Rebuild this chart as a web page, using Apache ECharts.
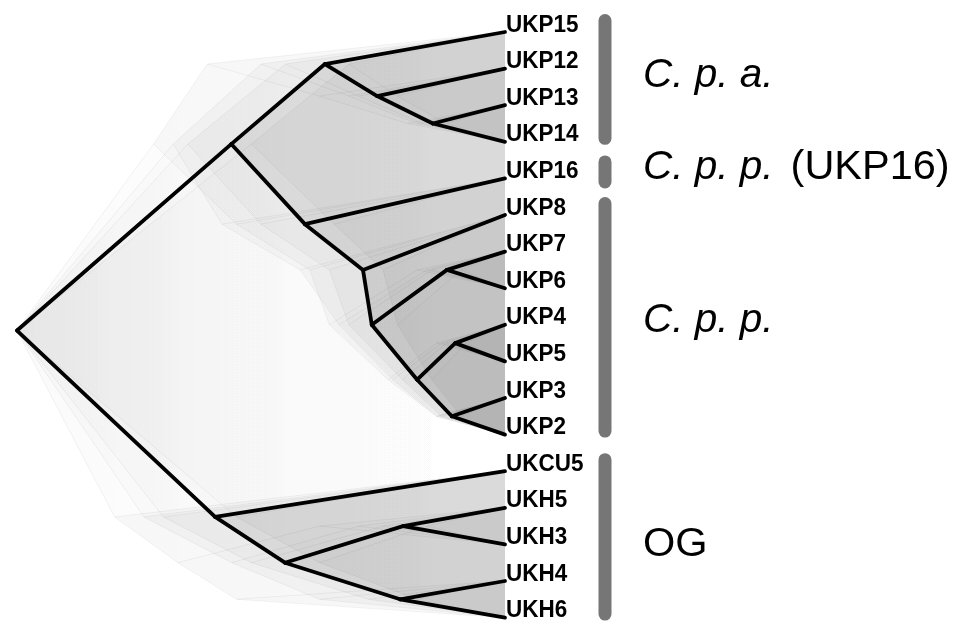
<!DOCTYPE html>
<html><head><meta charset="utf-8">
<script src="https://cdn.jsdelivr.net/npm/echarts@6/dist/echarts.min.js"></script>
<style>html,body{margin:0;padding:0;background:#fff}#c{width:958px;height:623px}</style>
</head><body><div id="c"></div>
<script>
// ---------------- DATA ----------------
const tipNames = ['UKP15','UKP12','UKP13','UKP14','UKP16','UKP8','UKP7','UKP6','UKP4','UKP5','UKP3','UKP2','UKCU5','UKH5','UKH3','UKH4','UKH6'];
const tipDepth = 100;
const nodeNames = ['root','A','B','C','D','E','F','G','H','I','J','K','L','M','N','O'];
const nodeChildren = [
  ['A','L'], ['B','E'], ['UKP15','C'], ['UKP12','D'], ['UKP13','UKP14'],
  ['UKP16','F'], ['UKP8','G'], ['H','I'], ['UKP7','UKP6'], ['J','K'],
  ['UKP4','UKP5'], ['UKP3','UKP2'], ['UKCU5','M'], ['N','O'], ['UKH5','UKH3'], ['UKH4','UKH6']
];
// consensus tree node depths (root = 0, tips = 100)
const consensusDepth = [0, 43.9, 63.1, 73.8, 85.2, 59.0, 70.9, 72.7, 88.1, 82.0, 89.8, 89.1, 40.6, 54.9, 79.1, 78.5];
// a few posterior trees visible in the grey cloud behind the consensus
const cloudTree1 = [0, 28, 39, 62, 80, 45, 60, 64, 82, 76, 86, 86, 30, 48, 75, 72];
const cloudTree2 = [0, 35, 55, 70, 83, 50, 64, 68, 85, 79, 88, 87, 20, 33, 62, 45];
const cloudTree3 = [0, 32, 50, 68, 82, 42, 58, 66, 84, 77, 87, 86, 26, 44, 70, 62];
const cloudTree4 = [0, 48, 68, 78, 88, 65, 75, 78, 91, 85, 92, 91, 45, 62, 84, 82];
const groupNames = ['C. p. a.', 'C. p. p. (UKP16)', 'C. p. p.', 'OG'];
const groupFirst = ['UKP15','UKP16','UKP8','UKCU5'];
const groupLast  = ['UKP14','UKP16','UKP2','UKH6'];

// ---------------- LAYOUT HELPERS ----------------
const idxTip = {}; tipNames.forEach((n,i)=>idxTip[n]=i);
const idxNode = {}; nodeNames.forEach((n,i)=>idxNode[n]=i);
function isTip(n){ return Object.prototype.hasOwnProperty.call(idxTip,n); }
function rowOf(n){ if(isTip(n)) return idxTip[n]; const ch=nodeChildren[idxNode[n]]; return ch.reduce((s,c)=>s+rowOf(c),0)/ch.length; }
function depthOf(n,d){ return isTip(n) ? tipDepth : d[idxNode[n]]; }
function pt(n,d){ return [depthOf(n,d), rowOf(n)]; }
function chain(n,d,first){ const out=[pt(n,d)]; let cur=n; while(!isTip(cur)){ const ch=nodeChildren[idxNode[cur]]; cur = first?ch[0]:ch[ch.length-1]; out.push(pt(cur,d)); } return out; }
const level = {root:0};
(function walk(n){ if(isTip(n)) return; nodeChildren[idxNode[n]].forEach(c=>{ level[c]=level[n]+1; walk(c); }); })('root');

const trees = [
  {d: consensusDepth, a0: 0.03, a1: 0.065, a2: 0.016, line: null},
  {d: cloudTree1, a0: 0.02, a1: 0.02, a2: 0.002, line: 'rgba(0,0,0,0.05)'},
  {d: cloudTree2, a0: 0.02, a1: 0.02, a2: 0.002, line: 'rgba(0,0,0,0.05)'},
  {d: cloudTree3, a0: 0.02, a1: 0.02, a2: 0.002, line: 'rgba(0,0,0,0.05)'},
  {d: cloudTree4, a0: 0.02, a1: 0.02, a2: 0.002, line: 'rgba(0,0,0,0.05)'}
];
const polys = [];
const faintSegs = [];
const mainSegs = [];
trees.forEach((t,ti)=>{
  nodeNames.forEach(n=>{
    const up = chain(n,t.d,true), lo = chain(n,t.d,false);
    const lv = level[n];
    polys.push({pts: up.concat(lo.slice(1).reverse()), lv, alpha: lv===0 ? t.a0 : (lv===1 ? t.a1 : t.a2)});
    nodeChildren[idxNode[n]].forEach(c=>{
      const seg = [pt(n,t.d), pt(c,t.d)];
      if (ti===0) mainSegs.push(seg); else faintSegs.push({seg, color: t.line});
    });
  });
});

const chart = echarts.init(document.getElementById('c'), null, {renderer:'canvas'});
const FONT = '"Liberation Sans", Arial, Helvetica, sans-serif';

chart.setOption({
  animation: false,
  backgroundColor: '#ffffff',
  grid: {left: 17, top: 32, width: 488, height: 585.6, containLabel: false},
  xAxis: {type:'value', min:0, max:100, show:false},
  yAxis: {type:'value', min:0, max:16, inverse:true, show:false},
  series: [
    { type:'custom', clip:false, silent:true, data: polys.map((p,i)=>[i]),
      renderItem: (params, api) => {
        const p = polys[params.dataIndex];
        let fill = 'rgba(0,0,0,'+p.alpha+')';
        if (p.lv===0) fill = new echarts.graphic.LinearGradient(0,0,1,0,[
          {offset:0, color:'rgba(0,0,0,'+p.alpha+')'},
          {offset:0.4, color:'rgba(0,0,0,'+(p.alpha*0.3)+')'},
          {offset:1, color:'rgba(0,0,0,0)'}]);
        return {type:'polygon', shape:{points: p.pts.map(q=>api.coord(q))}, style:{fill}};
      }},
    { type:'custom', clip:false, silent:true, data: faintSegs.map((s,i)=>[i]),
      renderItem: (params, api) => {
        const s = faintSegs[params.dataIndex];
        const a = api.coord(s.seg[0]), b = api.coord(s.seg[1]);
        return {type:'line', shape:{x1:a[0],y1:a[1],x2:b[0],y2:b[1]}, style:{stroke:s.color, lineWidth:1}};
      }},
    { type:'custom', clip:false, silent:true, data: mainSegs.map((s,i)=>[i]),
      renderItem: (params, api) => {
        const s = mainSegs[params.dataIndex];
        const a = api.coord(s[0]), b = api.coord(s[1]);
        return {type:'line', shape:{x1:a[0],y1:a[1],x2:b[0],y2:b[1]}, style:{stroke:'#000', lineWidth:3.8, lineCap:'round'}};
      }},
    { type:'custom', clip:false, silent:true, data: tipNames.map((n,i)=>[tipDepth, i]),
      renderItem: (params, api) => {
        const c = api.coord([api.value(0), api.value(1)]);
        return {type:'text', x: c[0]+1, y: c[1]-7, scaleY: 1.07, style:{
          text: tipNames[params.dataIndex], fill:'#000', font: 'bold 22.5px '+FONT,
          align:'left', verticalAlign:'middle'}};
      }},
    { type:'custom', clip:false, silent:true, data: groupNames.map((g,i)=>[i]),
      renderItem: (params, api) => {
        const i = params.dataIndex;
        const r0 = idxTip[groupFirst[i]], r1 = idxTip[groupLast[i]];
        const top = api.coord([tipDepth, r0]), bot = api.coord([tipDepth, r1]);
        let y0 = top[1]-18, y1 = bot[1]+3;
        if (r0===r1){ y0 -= 5; y1 += 7; }
        const bx = top[0] + 100;
        const shift = [-4, -4, 3, 8][i];
        const name = groupNames[i];
        const m = name.match(/^(C\. p\. [a-z]\.)\s*(.*)$/);
        const text = m ? ('{i|'+m[1]+'}' + (m[2] ? '{g|}{n|'+m[2]+'}' : '')) : '{n|'+name+'}';
        return {type:'group', children:[
          {type:'line', shape:{x1:bx, y1:y0+6.5, x2:bx, y2:y1-6.5}, style:{stroke:'#767676', lineWidth:13, lineCap:'round'}},
          {type:'text', x: top[0]+138, y:(y0+y1)/2 + shift, style:{
            text, verticalAlign:'middle', align:'left',
            rich:{ i:{fontFamily:FONT, fontStyle:'italic', fontSize:40.5, fill:'#000', lineHeight:44},
                   g:{width:17, height:10},
                   n:{fontFamily:FONT, fontSize:41.5, fill:'#000', lineHeight:44} } }}
        ]};
      }}
  ]
});
</script></body></html>
